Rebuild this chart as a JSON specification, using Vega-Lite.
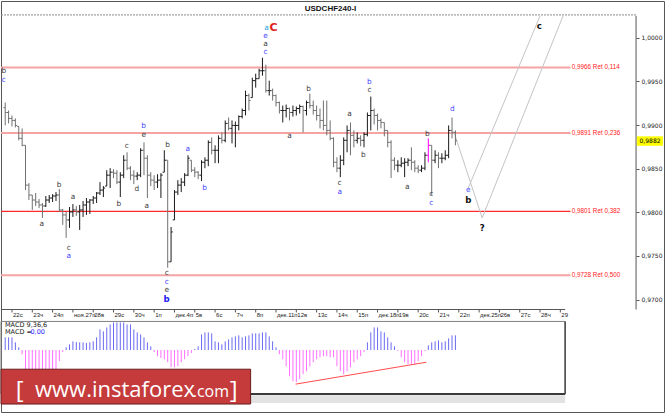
{
"$schema":"https://vega.github.io/schema/vega-lite/v6.json",
"width":665,"height":414,
"autosize":{"type":"fit","contains":"padding"},
"padding":0,
"background":"white",
"config":{"view":{"stroke":null},"font":"Liberation Sans"},
"datasets":{
"bars":[
{"i":-2,"o":0.992,"h":0.99258,"l":0.98996,"c":0.99144,"m":1.27},
{"i":-1,"o":0.99144,"h":0.99167,"l":0.99019,"c":0.99076,"m":1.27},
{"i":0,"o":0.99076,"h":0.9911,"l":0.98985,"c":0.99053,"m":1.27},
{"i":1,"o":0.99053,"h":0.99076,"l":0.98973,"c":0.98996,"m":0.77},
{"i":2,"o":0.98985,"h":0.98985,"l":0.98825,"c":0.98848,"m":0.27},
{"i":3,"o":0.98848,"h":0.98962,"l":0.98757,"c":0.98768,"m":-0.43},
{"i":4,"o":0.98768,"h":0.98768,"l":0.98255,"c":0.98312,"m":-2.2},
{"i":5,"o":0.98312,"h":0.98335,"l":0.98141,"c":0.98198,"m":-2.6},
{"i":6,"o":0.98198,"h":0.98198,"l":0.98027,"c":0.98141,"m":-2.8},
{"i":7,"o":0.98141,"h":0.98221,"l":0.98073,"c":0.98118,"m":-2.9},
{"i":8,"o":0.98118,"h":0.98152,"l":0.9805,"c":0.98084,"m":-2.9},
{"i":9,"o":0.98084,"h":0.98107,"l":0.97936,"c":0.98073,"m":-2.9},
{"i":10,"o":0.98073,"h":0.98187,"l":0.98061,"c":0.98141,"m":-2.8},
{"i":11,"o":0.98141,"h":0.98198,"l":0.98107,"c":0.98164,"m":-2.6},
{"i":12,"o":0.98164,"h":0.98209,"l":0.98118,"c":0.98187,"m":-2.4},
{"i":13,"o":0.98187,"h":0.98232,"l":0.9813,"c":0.98198,"m":-2.0},
{"i":14,"o":0.98198,"h":0.98266,"l":0.98004,"c":0.98027,"m":-1.1},
{"i":15,"o":0.98027,"h":0.98038,"l":0.97856,"c":0.9797,"m":-0.2},
{"i":16,"o":0.9797,"h":0.98004,"l":0.97707,"c":0.97913,"m":0.27},
{"i":17,"o":0.97913,"h":0.98061,"l":0.97822,"c":0.98004,"m":0.57},
{"i":18,"o":0.98004,"h":0.98095,"l":0.97947,"c":0.98027,"m":0.87},
{"i":19,"o":0.98027,"h":0.98073,"l":0.97959,"c":0.98004,"m":0.8},
{"i":20,"o":0.98004,"h":0.98084,"l":0.97798,"c":0.98027,"m":0.77},
{"i":21,"o":0.98027,"h":0.9813,"l":0.97947,"c":0.98084,"m":0.77},
{"i":22,"o":0.98084,"h":0.98164,"l":0.9797,"c":0.98118,"m":0.7},
{"i":23,"o":0.98118,"h":0.98152,"l":0.97981,"c":0.98141,"m":0.77},
{"i":24,"o":0.98141,"h":0.98187,"l":0.98095,"c":0.98164,"m":0.87},
{"i":25,"o":0.98164,"h":0.98232,"l":0.98107,"c":0.98221,"m":1.27},
{"i":26,"o":0.98221,"h":0.98346,"l":0.98198,"c":0.98255,"m":2.07},
{"i":27,"o":0.98255,"h":0.98301,"l":0.98175,"c":0.98278,"m":1.87},
{"i":28,"o":0.98301,"h":0.98483,"l":0.98301,"c":0.98426,"m":2.27},
{"i":29,"o":0.98426,"h":0.98506,"l":0.98278,"c":0.9846,"m":2.57},
{"i":30,"o":0.9846,"h":0.98494,"l":0.98392,"c":0.98449,"m":2.77},
{"i":31,"o":0.98449,"h":0.98483,"l":0.98323,"c":0.98346,"m":2.77},
{"i":32,"o":0.98346,"h":0.9846,"l":0.98175,"c":0.98426,"m":2.77},
{"i":33,"o":0.98426,"h":0.98654,"l":0.98392,"c":0.98597,"m":2.77},
{"i":34,"o":0.98597,"h":0.98688,"l":0.98483,"c":0.98506,"m":2.57},
{"i":35,"o":0.98506,"h":0.98529,"l":0.98369,"c":0.98426,"m":2.57},
{"i":36,"o":0.98426,"h":0.98483,"l":0.98323,"c":0.98415,"m":2.07},
{"i":37,"o":0.98415,"h":0.9846,"l":0.98369,"c":0.98426,"m":1.77},
{"i":38,"o":0.98426,"h":0.98734,"l":0.98403,"c":0.98711,"m":1.57},
{"i":39,"o":0.98711,"h":0.98802,"l":0.98426,"c":0.9862,"m":1.27},
{"i":40,"o":0.9862,"h":0.98654,"l":0.98164,"c":0.98426,"m":0.77},
{"i":41,"o":0.98426,"h":0.9846,"l":0.98301,"c":0.98369,"m":0.37},
{"i":42,"o":0.98369,"h":0.98426,"l":0.98255,"c":0.98346,"m":-0.2},
{"i":43,"o":0.98346,"h":0.98437,"l":0.98278,"c":0.98369,"m":-0.63},
{"i":44,"o":0.98369,"h":0.98449,"l":0.98164,"c":0.98426,"m":-0.8},
{"i":45,"o":0.9846,"h":0.98711,"l":0.9846,"c":0.98597,"m":-0.93},
{"i":46,"o":0.98597,"h":0.98597,"l":0.97365,"c":0.97433,"m":-1.23},
{"i":47,"o":0.97433,"h":0.97832,"l":0.97433,"c":0.97775,"m":-1.73},
{"i":48,"o":0.97913,"h":0.98255,"l":0.97913,"c":0.98232,"m":-1.73},
{"i":49,"o":0.98232,"h":0.98369,"l":0.98198,"c":0.98312,"m":-1.63},
{"i":50,"o":0.98312,"h":0.98392,"l":0.98232,"c":0.98346,"m":-1.23},
{"i":51,"o":0.98346,"h":0.98449,"l":0.98301,"c":0.98426,"m":-0.93},
{"i":52,"o":0.98426,"h":0.98654,"l":0.98415,"c":0.9862,"m":-0.63},
{"i":53,"o":0.98597,"h":0.98597,"l":0.9846,"c":0.98483,"m":-0.3},
{"i":54,"o":0.98483,"h":0.98517,"l":0.98403,"c":0.9846,"m":0.1},
{"i":55,"o":0.9846,"h":0.98472,"l":0.9838,"c":0.98426,"m":0.37},
{"i":56,"o":0.98426,"h":0.98597,"l":0.98358,"c":0.98574,"m":1.57},
{"i":57,"o":0.98574,"h":0.98631,"l":0.98506,"c":0.98597,"m":1.77},
{"i":58,"o":0.98597,"h":0.98825,"l":0.98529,"c":0.98802,"m":1.77},
{"i":59,"o":0.98802,"h":0.98859,"l":0.98665,"c":0.98711,"m":1.67},
{"i":60,"o":0.98711,"h":0.98768,"l":0.98563,"c":0.98711,"m":0.87},
{"i":61,"o":0.98711,"h":0.98882,"l":0.98563,"c":0.98848,"m":0.77},
{"i":62,"o":0.98848,"h":0.98916,"l":0.9879,"c":0.98825,"m":0.57},
{"i":63,"o":0.98825,"h":0.99053,"l":0.98802,"c":0.99019,"m":0.87},
{"i":64,"o":0.99019,"h":0.99087,"l":0.98939,"c":0.98962,"m":1.07},
{"i":65,"o":0.98962,"h":0.99053,"l":0.9879,"c":0.98996,"m":1.27},
{"i":66,"o":0.98996,"h":0.99041,"l":0.98745,"c":0.98996,"m":1.37},
{"i":67,"o":0.98996,"h":0.9911,"l":0.98939,"c":0.99098,"m":1.47},
{"i":68,"o":0.99098,"h":0.9919,"l":0.99076,"c":0.99167,"m":1.27},
{"i":69,"o":0.99167,"h":0.99395,"l":0.9911,"c":0.99338,"m":1.37},
{"i":70,"o":0.99338,"h":0.99361,"l":0.99167,"c":0.99281,"m":1.47},
{"i":71,"o":0.99315,"h":0.99543,"l":0.99315,"c":0.99509,"m":1.67},
{"i":72,"o":0.99509,"h":0.99589,"l":0.99429,"c":0.99532,"m":1.67},
{"i":73,"o":0.99532,"h":0.99646,"l":0.99532,"c":0.99623,"m":1.67},
{"i":74,"o":0.99623,"h":0.99772,"l":0.99566,"c":0.99623,"m":1.77},
{"i":75,"o":0.99623,"h":0.99692,"l":0.99372,"c":0.99395,"m":1.77},
{"i":76,"o":0.99395,"h":0.99509,"l":0.99338,"c":0.99395,"m":1.37},
{"i":77,"o":0.99395,"h":0.99418,"l":0.99281,"c":0.99338,"m":0.87},
{"i":78,"o":0.99338,"h":0.9935,"l":0.99213,"c":0.99258,"m":0.27},
{"i":79,"o":0.99258,"h":0.9927,"l":0.99132,"c":0.99167,"m":-0.43},
{"i":80,"o":0.99167,"h":0.99224,"l":0.9903,"c":0.99167,"m":-0.93},
{"i":81,"o":0.99167,"h":0.99235,"l":0.99087,"c":0.9919,"m":-1.63},
{"i":82,"o":0.9919,"h":0.99201,"l":0.99053,"c":0.99144,"m":-2.63},
{"i":83,"o":0.99144,"h":0.99224,"l":0.99098,"c":0.99167,"m":-3.13},
{"i":84,"o":0.99167,"h":0.99213,"l":0.9911,"c":0.9919,"m":-3.23},
{"i":85,"o":0.9919,"h":0.99235,"l":0.99132,"c":0.99213,"m":-2.93},
{"i":86,"o":0.99213,"h":0.99224,"l":0.98916,"c":0.99167,"m":-2.43},
{"i":87,"o":0.99167,"h":0.99281,"l":0.9911,"c":0.99258,"m":-2.13},
{"i":88,"o":0.99258,"h":0.99361,"l":0.9919,"c":0.99224,"m":-1.63},
{"i":89,"o":0.99224,"h":0.99281,"l":0.99121,"c":0.99167,"m":-1.23},
{"i":90,"o":0.99167,"h":0.99224,"l":0.99053,"c":0.9911,"m":-0.93},
{"i":91,"o":0.9911,"h":0.9919,"l":0.98962,"c":0.99053,"m":-0.73},
{"i":92,"o":0.99053,"h":0.99281,"l":0.98939,"c":0.98996,"m":-0.63},
{"i":93,"o":0.98996,"h":0.99281,"l":0.98882,"c":0.98939,"m":-0.63},
{"i":94,"o":0.98939,"h":0.99053,"l":0.98825,"c":0.98848,"m":-0.73},
{"i":95,"o":0.98848,"h":0.98859,"l":0.98517,"c":0.98574,"m":-0.73},
{"i":96,"o":0.98574,"h":0.98631,"l":0.9846,"c":0.98506,"m":-1.63},
{"i":97,"o":0.98506,"h":0.98654,"l":0.98403,"c":0.98597,"m":-2.13},
{"i":98,"o":0.98597,"h":0.98859,"l":0.9854,"c":0.98825,"m":-2.43},
{"i":99,"o":0.98825,"h":0.98996,"l":0.98688,"c":0.98939,"m":-2.13},
{"i":100,"o":0.98939,"h":0.9903,"l":0.98654,"c":0.98882,"m":-1.73},
{"i":101,"o":0.98882,"h":0.98939,"l":0.98745,"c":0.98825,"m":-1.23},
{"i":102,"o":0.98825,"h":0.98916,"l":0.9879,"c":0.98848,"m":-0.93},
{"i":103,"o":0.98848,"h":0.98882,"l":0.98757,"c":0.98825,"m":-0.63},
{"i":104,"o":0.98825,"h":0.98916,"l":0.98745,"c":0.98893,"m":-0.2},
{"i":105,"o":0.98893,"h":0.99144,"l":0.98871,"c":0.9911,"m":0.77},
{"i":106,"o":0.9911,"h":0.99327,"l":0.98939,"c":0.99167,"m":1.77},
{"i":107,"o":0.99167,"h":0.9919,"l":0.99007,"c":0.9911,"m":2.27},
{"i":108,"o":0.9911,"h":0.99132,"l":0.98939,"c":0.99053,"m":2.27},
{"i":109,"o":0.99053,"h":0.99076,"l":0.98962,"c":0.9903,"m":1.87},
{"i":110,"o":0.9903,"h":0.9903,"l":0.98871,"c":0.98939,"m":1.77},
{"i":111,"o":0.98939,"h":0.98939,"l":0.98745,"c":0.98802,"m":1.27},
{"i":112,"o":0.98802,"h":0.98825,"l":0.98392,"c":0.98597,"m":0.77},
{"i":113,"o":0.98597,"h":0.98631,"l":0.98483,"c":0.9854,"m":0.37},
{"i":114,"o":0.9854,"h":0.98597,"l":0.9846,"c":0.9854,"m":-0.1},
{"i":115,"o":0.9854,"h":0.98631,"l":0.98517,"c":0.98563,"m":-0.73},
{"i":116,"o":0.98563,"h":0.9862,"l":0.98403,"c":0.98574,"m":-1.23},
{"i":117,"o":0.98574,"h":0.9862,"l":0.98529,"c":0.98597,"m":-1.43},
{"i":118,"o":0.98597,"h":0.98745,"l":0.98483,"c":0.98574,"m":-1.43},
{"i":119,"o":0.98574,"h":0.98597,"l":0.9846,"c":0.98506,"m":-1.43},
{"i":120,"o":0.98506,"h":0.9854,"l":0.98449,"c":0.98483,"m":-1.13},
{"i":121,"o":0.98483,"h":0.9854,"l":0.9846,"c":0.98506,"m":-0.63},
{"i":122,"o":0.98506,"h":0.98688,"l":0.98483,"c":0.98654,"m":-0.1},
{"i":123,"o":0.98654,"h":0.98848,"l":0.98574,"c":0.98768,"m":0.47},
{"i":124,"o":0.98768,"h":0.98768,"l":0.98198,"c":0.98597,"m":0.77},
{"i":125,"o":0.98597,"h":0.98711,"l":0.98563,"c":0.98654,"m":0.87},
{"i":126,"o":0.98654,"h":0.98688,"l":0.98506,"c":0.9862,"m":0.97},
{"i":127,"o":0.9862,"h":0.98677,"l":0.98563,"c":0.9862,"m":0.77},
{"i":128,"o":0.9862,"h":0.98711,"l":0.98597,"c":0.98654,"m":0.87},
{"i":129,"o":0.98654,"h":0.98996,"l":0.9862,"c":0.98939,"m":1.17},
{"i":130,"o":0.98939,"h":0.99087,"l":0.98848,"c":0.98916,"m":1.47},
{"i":131,"o":0.98916,"h":0.98939,"l":0.98768,"c":0.9882,"m":1.47}
],
"days":[
{"i":0,"lab":"22с"},{"i":6,"lab":"23ч"},{"i":12,"lab":"24п"},{"i":18,"lab":"ноя.27п"},{"i":24,"lab":"28в"},
{"i":30,"lab":"29с"},{"i":36,"lab":"30ч"},{"i":42,"lab":"1п"},{"i":48,"lab":"дек.4п"},{"i":54,"lab":"5в"},
{"i":60,"lab":"6с"},{"i":66,"lab":"7ч"},{"i":72,"lab":"8п"},{"i":78,"lab":"дек.11п"},{"i":84,"lab":"12в"},
{"i":90,"lab":"13с"},{"i":96,"lab":"14ч"},{"i":102,"lab":"15п"},{"i":108,"lab":"дек.18п"},{"i":114,"lab":"19в"},
{"i":120,"lab":"20с"},{"i":126,"lab":"21ч"},{"i":132,"lab":"22п"},{"i":138,"lab":"дек.25п"},{"i":144,"lab":"26в"},
{"i":150,"lab":"27с"},{"i":156,"lab":"28ч"},{"i":162,"lab":"29"}
],
"fib":[
{"level":0.9966,"label":"0,9966 Ret 0,114"},
{"level":0.9891,"label":"0,9891 Ret 0,236"},
{"level":0.9801,"label":"0,9801 Ret 0,382"},
{"level":0.9728,"label":"0,9728 Ret 0,500"}
],
"proj":[
{"x1":130.7,"p1":0.98904,"x2":138.9,"p2":0.97936},
{"x1":138.9,"p1":0.97936,"x2":162.8,"p2":1.00251},
{"x1":134.8,"p1":0.98278,"x2":156.0,"p2":1.00251}
],
"trend":[{"x1":83.8,"m1":-3.43,"x2":122.4,"m2":-1.23}],
"meta":[{"symbol":"USDCHF240-I","last":0.9882,"lastLabel":"0,9882","site":"www.instaforex","tld":".com"}],
"waves":[
{"t":"a","i":75.2,"p":1.00109,"deg":"v"},
{"t":"C","i":77.3,"p":1.00114,"deg":"vi"},
{"t":"e","i":74.9,"p":1.00023,"deg":"ii"},
{"t":"a","i":74.9,"p":0.99931,"deg":"i"},
{"t":"c","i":74.9,"p":0.9984,"deg":"ii"},
{"t":"b","i":87.6,"p":0.99418,"deg":"i"},
{"t":"a","i":82.0,"p":0.98871,"deg":"i"},
{"t":"b","i":38.9,"p":0.98985,"deg":"ii"},
{"t":"e","i":38.9,"p":0.98882,"deg":"i"},
{"t":"c","i":33.9,"p":0.98757,"deg":"i"},
{"t":"b","i":46.0,"p":0.98768,"deg":"i"},
{"t":"a","i":51.9,"p":0.98722,"deg":"ii"},
{"t":"b","i":13.9,"p":0.98312,"deg":"i"},
{"t":"a","i":18.0,"p":0.98175,"deg":"i"},
{"t":"d","i":36.9,"p":0.98266,"deg":"i"},
{"t":"b","i":31.6,"p":0.98095,"deg":"i"},
{"t":"a","i":39.8,"p":0.98073,"deg":"i"},
{"t":"b","i":56.9,"p":0.98278,"deg":"ii"},
{"t":"a","i":8.8,"p":0.97867,"deg":"i"},
{"t":"c","i":16.8,"p":0.97593,"deg":"i"},
{"t":"a","i":16.8,"p":0.97502,"deg":"ii"},
{"t":"c","i":45.7,"p":0.97308,"deg":"i"},
{"t":"c","i":45.7,"p":0.97205,"deg":"ii"},
{"t":"e","i":45.7,"p":0.97114,"deg":"i"},
{"t":"b","i":45.7,"p":0.97005,"deg":"iii"},
{"t":"a","i":99.7,"p":0.99122,"deg":"i"},
{"t":"b","i":105.6,"p":0.99498,"deg":"ii"},
{"t":"c","i":105.6,"p":0.99407,"deg":"i"},
{"t":"b","i":103.8,"p":0.98654,"deg":"i"},
{"t":"c","i":96.8,"p":0.98335,"deg":"i"},
{"t":"a","i":96.8,"p":0.98232,"deg":"ii"},
{"t":"a","i":116.8,"p":0.98289,"deg":"i"},
{"t":"b","i":122.7,"p":0.98893,"deg":"i"},
{"t":"c","i":123.9,"p":0.98209,"deg":"i"},
{"t":"c","i":123.9,"p":0.98106,"deg":"ii"},
{"t":"d","i":130.1,"p":0.99179,"deg":"ii"},
{"t":"e","i":134.8,"p":0.98255,"deg":"ii"},
{"t":"b","i":134.8,"p":0.98141,"deg":"iv"},
{"t":"c","i":155.8,"p":1.00137,"deg":"iv"},
{"t":"?","i":138.9,"p":0.97821,"deg":"iv"},
{"t":"b","i":-2.4,"p":0.99623,"deg":"i"},
{"t":"c","i":-2.4,"p":0.99521,"deg":"ii"}
]
},
"layer":[
{"data":{"name":"meta"},"mark":{"type":"rect","fillOpacity":0,"stroke":"#555","strokeWidth":1},
 "encoding":{"x":{"datum":-3.1,"type":"quantitative","scale":{"domain":[-3.245,192.92],"nice":false,"zero":false},"axis":null},"x2":{"datum":192.77},
  "y":{"datum":1.004165,"type":"quantitative","scale":{"domain":[0.956997,1.004222],"nice":false,"zero":false},"axis":null},"y2":{"datum":0.957054}}},
{"data":{"name":"fib"},"mark":{"type":"rule"},
 "encoding":{"x":{"datum":-3.245,"type":"quantitative","scale":{"domain":[-3.245,192.92],"nice":false,"zero":false},"axis":null},"x2":{"datum":165},
  "y":{"field":"level","type":"quantitative","scale":{"domain":[0.956997,1.004222],"nice":false,"zero":false},"axis":null},
  "color":{"condition":{"test":"datum.level == 0.9801","value":"#ff2a2a"},"value":"#f5a3a3"},
  "strokeWidth":{"condition":{"test":"datum.level == 0.9801","value":1.2},"value":2}}},
{"data":{"name":"fib"},"mark":{"type":"text","align":"left","baseline":"middle","font":"Liberation Sans","fontSize":6.3,"color":"#ff2020"},
 "encoding":{"x":{"datum":165.4,"type":"quantitative","scale":{"domain":[-3.245,192.92],"nice":false,"zero":false},"axis":null},
  "y":{"field":"level","type":"quantitative","scale":{"domain":[0.956997,1.004222],"nice":false,"zero":false},"axis":null},
  "text":{"field":"label"}}},
{"data":{"name":"proj"},"mark":{"type":"rule","color":"#c4c4c4","strokeWidth":1},
 "encoding":{"x":{"field":"x1","type":"quantitative","scale":{"domain":[-3.245,192.92],"nice":false,"zero":false},"axis":null},"x2":{"field":"x2"},
  "y":{"field":"p1","type":"quantitative","scale":{"domain":[0.956997,1.004222],"nice":false,"zero":false},"axis":null},"y2":{"field":"p2"}}},
{"data":{"name":"meta"},"mark":{"type":"rule","color":"#8a8a8a","strokeDash":[2,1],"strokeWidth":1},
 "encoding":{"x":{"datum":-3.245,"type":"quantitative","scale":{"domain":[-3.245,192.92],"nice":false,"zero":false},"axis":null},"x2":{"datum":184.37},
  "y":{"datum":1.002625,"type":"quantitative","scale":{"domain":[0.956997,1.004222],"nice":false,"zero":false},"axis":null}}},
{"data":{"name":"meta"},"mark":{"type":"rule","color":"#555","strokeWidth":1},
 "encoding":{"x":{"datum":184.37,"type":"quantitative","scale":{"domain":[-3.245,192.92],"nice":false,"zero":false},"axis":null},
  "y":{"datum":0.968862,"type":"quantitative","scale":{"domain":[0.956997,1.004222],"nice":false,"zero":false},"axis":null},"y2":{"datum":1.002511}}},
{"data":{"name":"meta"},"mark":{"type":"rule","color":"#555","strokeWidth":1},
 "encoding":{"x":{"datum":-3.245,"type":"quantitative","scale":{"domain":[-3.245,192.92],"nice":false,"zero":false},"axis":null},"x2":{"datum":163.42},
  "y":{"datum":0.968862,"type":"quantitative","scale":{"domain":[0.956997,1.004222],"nice":false,"zero":false},"axis":null}}},
{"data":{"name":"days"},"mark":{"type":"rule","color":"#555","strokeWidth":1},
 "encoding":{"x":{"field":"i","type":"quantitative","scale":{"domain":[-3.245,192.92],"nice":false,"zero":false},"axis":null},
  "y":{"datum":0.968862,"type":"quantitative","scale":{"domain":[0.956997,1.004222],"nice":false,"zero":false},"axis":null},"y2":{"datum":0.96852}}},
{"data":{"name":"days"},"mark":{"type":"text","align":"left","baseline":"top","dx":1,"dy":3,"font":"Liberation Sans","fontSize":6,"color":"#222"},
 "encoding":{"x":{"field":"i","type":"quantitative","scale":{"domain":[-3.245,192.92],"nice":false,"zero":false},"axis":null},
  "y":{"datum":0.968862,"type":"quantitative","scale":{"domain":[0.956997,1.004222],"nice":false,"zero":false},"axis":null},
  "text":{"field":"lab"}}},
{"data":{"name":"bars"},"mark":{"type":"rule","strokeWidth":1},
 "encoding":{
  "x":{"field":"i","type":"quantitative","scale":{"domain":[-3.245,192.92],"nice":false,"zero":false},"axis":null},
  "y":{"field":"l","type":"quantitative","scale":{"domain":[0.956997,1.004222],"nice":false,"zero":false},
   "axis":{"orient":"right","offset":-29,"values":[0.97,0.975,0.98,0.985,0.99,0.995,1.0],
    "labelExpr":"replace(format(datum.value, '.4f'), '.', ',')",
    "domain":false,"grid":false,"tickSize":3,"tickColor":"#555","labelPadding":2,"labelFont":"DejaVu Sans","labelFontSize":6,"labelColor":"#222",
    "labelAlign":"left","labelBaseline":"middle","title":null,"labelOverlap":false,"labelBound":false}},
  "y2":{"field":"h"},
  "color":{"condition":[{"test":"datum.i == 123","value":"#ff00ff"},{"test":"datum.c >= datum.o","value":"#1a1a1a"}],"value":"#707070"}}},
{"data":{"name":"bars"},"mark":{"type":"rule","strokeWidth":1,"xOffset":-1.7,"x2Offset":0},
 "encoding":{"x":{"field":"i","type":"quantitative","scale":{"domain":[-3.245,192.92],"nice":false,"zero":false},"axis":null},"x2":{"field":"i"},
  "y":{"field":"o","type":"quantitative","scale":{"domain":[0.956997,1.004222],"nice":false,"zero":false},"axis":null},
  "color":{"condition":[{"test":"datum.i == 123","value":"#ff00ff"},{"test":"datum.c >= datum.o","value":"#1a1a1a"}],"value":"#707070"}}},
{"data":{"name":"bars"},"mark":{"type":"rule","strokeWidth":1,"xOffset":0,"x2Offset":1.7},
 "encoding":{"x":{"field":"i","type":"quantitative","scale":{"domain":[-3.245,192.92],"nice":false,"zero":false},"axis":null},"x2":{"field":"i"},
  "y":{"field":"c","type":"quantitative","scale":{"domain":[0.956997,1.004222],"nice":false,"zero":false},"axis":null},
  "color":{"condition":[{"test":"datum.i == 123","value":"#ff00ff"},{"test":"datum.c >= datum.o","value":"#1a1a1a"}],"value":"#707070"}}},
{"data":{"name":"meta"},"mark":{"type":"rect","color":"#ffff00"},
 "encoding":{"x":{"datum":184.6,"type":"quantitative","scale":{"domain":[-3.245,192.92],"nice":false,"zero":false},"axis":null},"x2":{"datum":192.3},
  "y":{"datum":0.988709,"type":"quantitative","scale":{"domain":[0.956997,1.004222],"nice":false,"zero":false},"axis":null},"y2":{"datum":0.987626}}},
{"data":{"name":"meta"},"mark":{"type":"text","align":"left","baseline":"middle","font":"DejaVu Sans","fontSize":6,"color":"#000"},
 "encoding":{"x":{"datum":185.4,"type":"quantitative","scale":{"domain":[-3.245,192.92],"nice":false,"zero":false},"axis":null},
  "y":{"field":"last","type":"quantitative","scale":{"domain":[0.956997,1.004222],"nice":false,"zero":false},"axis":null},
  "text":{"field":"lastLabel"}}},
{"data":{"name":"waves"},"transform":[{"filter":"datum.deg == 'i' || datum.deg == 'ii' || datum.deg == 'v'"}],
 "mark":{"type":"text","align":"center","baseline":"middle","font":"DejaVu Sans","fontSize":7.4,"clip":true},
 "encoding":{
  "x":{"field":"i","type":"quantitative","scale":{"domain":[-3.245,192.92],"nice":false,"zero":false},"axis":null},
  "y":{"field":"p","type":"quantitative","scale":{"domain":[0.956997,1.004222],"nice":false,"zero":false},"axis":null},
  "text":{"field":"t"},
  "color":{"field":"deg","type":"nominal","scale":{"domain":["i","ii","iii","iv","v","vi"],"range":["#3c3c3c","#4646ff","#2020ee","#111111","#2aa0e0","#e01e1e"]},"legend":null}}},
{"data":{"name":"waves"},"transform":[{"filter":"datum.deg == 'iii' || datum.deg == 'iv' || datum.deg == 'vi'"}],
 "mark":{"type":"text","align":"center","baseline":"middle","font":"DejaVu Sans","fontWeight":"bold","clip":true},
 "encoding":{
  "x":{"field":"i","type":"quantitative","scale":{"domain":[-3.245,192.92],"nice":false,"zero":false},"axis":null},
  "y":{"field":"p","type":"quantitative","scale":{"domain":[0.956997,1.004222],"nice":false,"zero":false},"axis":null},
  "text":{"field":"t"},
  "size":{"condition":{"test":"datum.deg == 'vi'","value":11},"value":8.6},
  "color":{"field":"deg","type":"nominal","scale":{"domain":["i","ii","iii","iv","v","vi"],"range":["#3c3c3c","#4646ff","#2020ee","#111111","#2aa0e0","#e01e1e"]},"legend":null}}},
{"data":{"name":"meta"},"mark":{"type":"text","align":"center","baseline":"middle","font":"Liberation Sans","fontWeight":"bold","fontSize":8,"color":"#111"},
 "encoding":{"x":{"datum":94.1,"type":"quantitative","scale":{"domain":[-3.245,192.92],"nice":false,"zero":false},"axis":null},
  "y":{"datum":1.00331,"type":"quantitative","scale":{"domain":[0.956997,1.004222],"nice":false,"zero":false},"axis":null},
  "text":{"field":"symbol"}}},
{"data":{"name":"meta"},"mark":{"type":"rect","color":"#e2e2e2"},
 "encoding":{"x":{"datum":-3.245,"type":"quantitative","scale":{"domain":[-3.245,192.92],"nice":false,"zero":false},"axis":null},"x2":{"datum":163.42},
  "y":{"datum":-4.55,"type":"quantitative","scale":{"domain":[-6.33,35.07],"nice":false,"zero":false},"axis":null},"y2":{"datum":-5.33}}},
{"data":{"name":"bars"},"mark":{"type":"rule","strokeWidth":1},
 "encoding":{
  "x":{"field":"i","type":"quantitative","scale":{"domain":[-3.245,192.92],"nice":false,"zero":false},"axis":null},
  "y":{"field":"m","type":"quantitative","scale":{"domain":[-6.33,35.07],"nice":false,"zero":false},"axis":null},
  "y2":{"datum":0},
  "color":{"condition":{"test":"datum.m >= 0","value":"#6a6af2"},"value":"#ff70ff"}}},
{"data":{"name":"meta"},"mark":{"type":"rect","fillOpacity":0,"stroke":"#808080","strokeWidth":1},
 "encoding":{"x":{"datum":-3.245,"type":"quantitative","scale":{"domain":[-3.245,192.92],"nice":false,"zero":false},"axis":null},"x2":{"datum":163.42},
  "y":{"datum":2.87,"type":"quantitative","scale":{"domain":[-6.33,35.07],"nice":false,"zero":false},"axis":null},"y2":{"datum":-4.43}}},
{"data":{"name":"meta"},"mark":{"type":"rule","color":"#3a3a3a","strokeWidth":2},
 "encoding":{"x":{"datum":-3.245,"type":"quantitative","scale":{"domain":[-3.245,192.92],"nice":false,"zero":false},"axis":null},"x2":{"datum":163.42},
  "y":{"datum":-4.43,"type":"quantitative","scale":{"domain":[-6.33,35.07],"nice":false,"zero":false},"axis":null}}},
{"data":{"name":"meta"},"mark":{"type":"rule","color":"#4a4a4a","strokeWidth":1.5},
 "encoding":{"x":{"datum":163.42,"type":"quantitative","scale":{"domain":[-3.245,192.92],"nice":false,"zero":false},"axis":null},
  "y":{"datum":2.87,"type":"quantitative","scale":{"domain":[-6.33,35.07],"nice":false,"zero":false},"axis":null},"y2":{"datum":-4.43}}},
{"data":{"name":"trend"},"mark":{"type":"rule","color":"#ff4a4a","strokeWidth":1},
 "encoding":{"x":{"field":"x1","type":"quantitative","scale":{"domain":[-3.245,192.92],"nice":false,"zero":false},"axis":null},"x2":{"field":"x2"},
  "y":{"field":"m1","type":"quantitative","scale":{"domain":[-6.33,35.07],"nice":false,"zero":false},"axis":null},"y2":{"field":"m2"}}},
{"data":{"name":"meta"},"mark":{"type":"text","align":"left","baseline":"middle","font":"DejaVu Sans","fontSize":6.5,"color":"#222"},
 "encoding":{"x":{"datum":-2.06,"type":"quantitative","scale":{"domain":[-3.245,192.92],"nice":false,"zero":false},"axis":null},
  "y":{"datum":2.47,"type":"quantitative","scale":{"domain":[-6.33,35.07],"nice":false,"zero":false},"axis":null},
  "text":{"value":"MACD 9,36,6"}}},
{"data":{"name":"meta"},"mark":{"type":"text","align":"left","baseline":"middle","font":"DejaVu Sans","fontSize":6.5,"color":"#222"},
 "encoding":{"x":{"datum":-2.06,"type":"quantitative","scale":{"domain":[-3.245,192.92],"nice":false,"zero":false},"axis":null},
  "y":{"datum":1.77,"type":"quantitative","scale":{"domain":[-6.33,35.07],"nice":false,"zero":false},"axis":null},
  "text":{"value":"MACD ="}}},
{"data":{"name":"meta"},"mark":{"type":"text","align":"left","baseline":"middle","font":"DejaVu Sans","fontSize":6.5,"color":"#2b2bff"},
 "encoding":{"x":{"datum":5.46,"type":"quantitative","scale":{"domain":[-3.245,192.92],"nice":false,"zero":false},"axis":null},
  "y":{"datum":1.77,"type":"quantitative","scale":{"domain":[-6.33,35.07],"nice":false,"zero":false},"axis":null},
  "text":{"value":"0,00"}}},
{"data":{"name":"meta"},"mark":{"type":"rect","color":"#c53b3b","stroke":"#6b1c1c","strokeWidth":1},
 "encoding":{"x":{"datum":-3.245,"type":"quantitative","scale":{"domain":[-3.245,192.92],"nice":false,"zero":false},"axis":null},"x2":{"datum":70.5},
  "y":{"datum":-1.93,"type":"quantitative","scale":{"domain":[-6.33,35.07],"nice":false,"zero":false},"axis":null},"y2":{"datum":-5.43}}},
{"data":{"name":"meta"},"mark":{"type":"text","align":"center","baseline":"alphabetic","font":"Open Sans","fontSize":24,"color":"#ffffff"},
 "encoding":{"x":{"datum":2.3,"type":"quantitative","scale":{"domain":[-3.245,192.92],"nice":false,"zero":false},"axis":null},
  "y":{"datum":-4.85,"type":"quantitative","scale":{"domain":[-6.33,35.07],"nice":false,"zero":false},"axis":null},
  "text":{"value":"["}}},
{"data":{"name":"meta"},"mark":{"type":"text","align":"left","baseline":"alphabetic","font":"Open Sans","fontSize":22,"color":"#ffffff"},
 "encoding":{"x":{"datum":6.8,"type":"quantitative","scale":{"domain":[-3.245,192.92],"nice":false,"zero":false},"axis":null},
  "y":{"datum":-4.73,"type":"quantitative","scale":{"domain":[-6.33,35.07],"nice":false,"zero":false},"axis":null},
  "text":{"field":"site"}}},
{"data":{"name":"meta"},"mark":{"type":"text","align":"left","baseline":"alphabetic","font":"Open Sans","fontSize":16,"color":"#ffffff"},
 "encoding":{"x":{"datum":53.4,"type":"quantitative","scale":{"domain":[-3.245,192.92],"nice":false,"zero":false},"axis":null},
  "y":{"datum":-4.73,"type":"quantitative","scale":{"domain":[-6.33,35.07],"nice":false,"zero":false},"axis":null},
  "text":{"field":"tld"}}},
{"data":{"name":"meta"},"mark":{"type":"text","align":"center","baseline":"alphabetic","font":"Open Sans","fontSize":24,"color":"#ffffff"},
 "encoding":{"x":{"datum":65.5,"type":"quantitative","scale":{"domain":[-3.245,192.92],"nice":false,"zero":false},"axis":null},
  "y":{"datum":-4.85,"type":"quantitative","scale":{"domain":[-6.33,35.07],"nice":false,"zero":false},"axis":null},
  "text":{"value":"]"}}}
],
"resolve":{"scale":{"y":"independent"},"axis":{"y":"independent"}}
}
